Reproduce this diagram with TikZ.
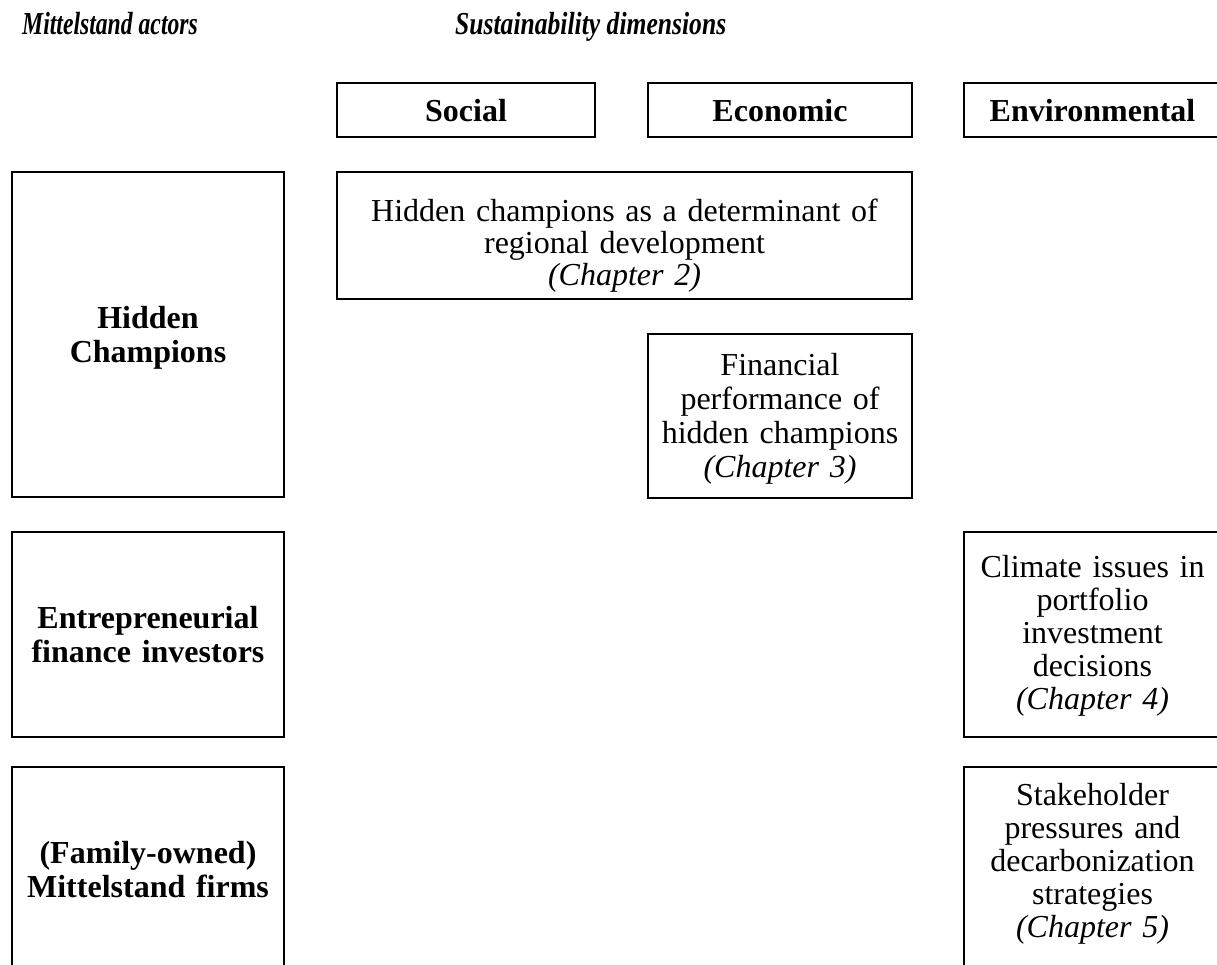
\documentclass[tikz,border=0pt]{standalone}
\usepackage{fontspec}
\usepackage{graphicx}
\setmainfont{Liberation Serif}
\begin{document}
\begin{tikzpicture}[x=1pt, y=-1pt,
  box/.style={draw=black, line width=2.8pt, rectangle, inner sep=0pt},
  txt/.style={font=\fontsize{32}{33}\selectfont, align=center, inner sep=0pt, anchor=base},
  btxt/.style={font=\fontsize{32}{34}\selectfont\bfseries, align=center, inner sep=0pt, anchor=base},
  ttl/.style={inner sep=0pt, anchor=base west}]
\useasboundingbox (0,0) rectangle (1217,965);
\clip (0,0) rectangle (1217,965);

% column titles
\node[ttl] (tactors) at (22,35)
  {\scalebox{0.74}[1]{\fontsize{32}{32}\selectfont\bfseries\itshape Mittelstand actors}};
\node[ttl] (tdims) at (455,35)
  {\scalebox{0.8}[1]{\fontsize{32}{32}\selectfont\bfseries\itshape Sustainability dimensions}};

% dimension headers
\node[box, minimum width=258, minimum height=54] (soc) at (466,110) {};
\node[box, minimum width=264, minimum height=54] (eco) at (780,110) {};
\node[box, minimum width=257, minimum height=54] (env) at (1092.5,110) {};
\node[btxt] (socl) at (466,122) {Social};
\node[btxt] (ecol) at (780,122) {Economic};
\node[btxt] (envl) at (1092.5,122) {Environmental};

% actor boxes
\node[box, minimum width=272, minimum height=325] (hc) at (148,334.5) {};
\node[box, minimum width=272, minimum height=205] (efi) at (148,634.5) {};
\node[box, minimum width=272, minimum height=210] (mf) at (148,872) {};
\node[btxt, text width=260] (hcl) at (148,328) {Hidden\\Champions};
\node[btxt, text width=260] (efil) at (148,628) {Entrepreneurial\\finance investors};
\node[btxt, text width=260] (mfl) at (148,863) {(Family-owned)\\Mittelstand firms};

% chapter boxes
\node[box, minimum width=575, minimum height=127] (ch2) at (624.5,235.5) {};
\node[box, minimum width=264, minimum height=164] (ch3) at (780,416) {};
\node[box, minimum width=257, minimum height=205] (ch4) at (1092.5,634.5) {};
\node[box, minimum width=257, minimum height=210] (ch5) at (1092.5,872) {};
\node[txt, text width=560, font=\fontsize{32}{32}\selectfont] (ch2t) at (624.5,222)
  {Hidden champions as a determinant of\\regional development\\\textit{(Chapter 2)}};
\node[txt, text width=255, font=\fontsize{32}{34}\selectfont] (ch3t) at (780,375)
  {Financial\\performance of\\hidden champions\\\textit{(Chapter 3)}};
\node[txt, text width=250] (ch4t) at (1092.5,577)
  {Climate issues in\\portfolio\\investment\\decisions\\\textit{(Chapter 4)}};
\node[txt, text width=250] (ch5t) at (1092.5,805)
  {Stakeholder\\pressures and\\decarbonization\\strategies\\\textit{(Chapter 5)}};
\end{tikzpicture}
\end{document}
